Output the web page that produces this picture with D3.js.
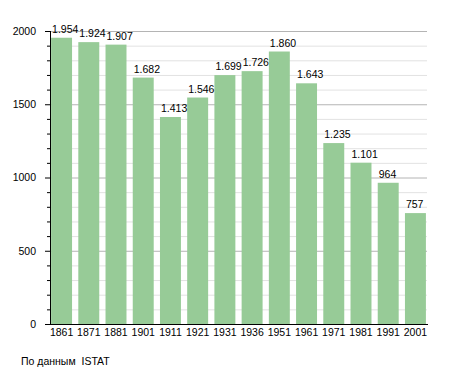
<!DOCTYPE html>
<html>
<head>
<meta charset="utf-8">
<script src="https://cdn.jsdelivr.net/npm/d3@7"></script>
<style>
  body { margin: 0; background: #fff; }
  svg text { font-family: "Liberation Sans", Arial, sans-serif; }
</style>
</head>
<body>
<svg width="455" height="373"></svg>
<script>
// Population by census year
const years = ['1861', '1871', '1881', '1901', '1911', '1921', '1931', '1936', '1951', '1961', '1971', '1981', '1991', '2001'];
const population = [1954, 1924, 1907, 1682, 1413, 1546, 1699, 1726, 1860, 1643, 1235, 1101, 964, 757];
const yTicks = [0, 500, 1000, 1500, 2000];
const source = 'По данным  ISTAT';

const svg = d3.select('svg');
const margin = { left: 50, right: 28, top: 31, bottom: 49 };
const width = 455 - margin.left - margin.right;
const height = 373 - margin.top - margin.bottom;

const g = svg.append('g')
  .attr('transform', `translate(${margin.left}, ${margin.top})`);

const x = d3.scaleBand()
  .domain(years)
  .range([0, width])
  .paddingInner(0.23)
  .paddingOuter(0.04);

const y = d3.scaleLinear()
  .domain([0, 2000])
  .range([height, 0]);

// grid lines: minor every 100, major every 500
const minor = d3.range(100, 2001, 100).filter(v => v % 500 !== 0);
g.selectAll('.minor')
  .data(minor)
  .join('line')
  .attr('x1', 0).attr('x2', width)
  .attr('y1', d => y(d) + 0.5).attr('y2', d => y(d) + 0.5)
  .attr('stroke', '#e2e2e2');

g.selectAll('.major')
  .data(yTicks.filter(v => v > 0))
  .join('line')
  .attr('x1', 0).attr('x2', width)
  .attr('y1', d => y(d) + 0.5).attr('y2', d => y(d) + 0.5)
  .attr('stroke', '#b4b4b4');

// bars
g.selectAll('rect')
  .data(population)
  .join('rect')
  .attr('x', (d, i) => x(years[i]))
  .attr('y', d => y(d))
  .attr('width', x.bandwidth())
  .attr('height', d => height - y(d))
  .attr('fill', '#97cb97');

// value labels
g.selectAll('.val')
  .data(population)
  .join('text')
  .attr('x', (d, i) => x(years[i]) + 1)
  .attr('y', d => y(d) - 5)
  .attr('font-size', 10.5)
  .attr('fill', '#000')
  .text(d => d3.format(',')(d).replace(',', '.'));

// y axis with minor ticks
const yAxis = g.append('g')
  .call(d3.axisLeft(y)
    .tickValues(d3.range(0, 2001, 100))
    .tickSize(3)
    .tickPadding(11)
    .tickFormat(d => d % 500 === 0 ? d : ''));
yAxis.select('.domain').attr('d', `M0.5,0V${height}`);
yAxis.selectAll('.tick line')
  .attr('x2', d => d % 500 === 0 ? -5 : -3);
yAxis.selectAll('text')
  .attr('font-size', 10.5)
  .attr('font-family', '"Liberation Sans", Arial, sans-serif');

// x axis
const xAxis = g.append('g')
  .attr('transform', `translate(0, ${height})`)
  .call(d3.axisBottom(x).tickSize(0).tickPadding(5));
xAxis.select('.domain').attr('d', `M0,0.5H${width + 1}`);
xAxis.selectAll('text')
  .attr('font-size', 10.5)
  .attr('font-family', '"Liberation Sans", Arial, sans-serif');

// source note
svg.append('text')
  .attr('x', 21)
  .attr('y', 365)
  .attr('font-size', 10.5)
  .style('white-space', 'pre')
  .text(source);
</script>
</body>
</html>
